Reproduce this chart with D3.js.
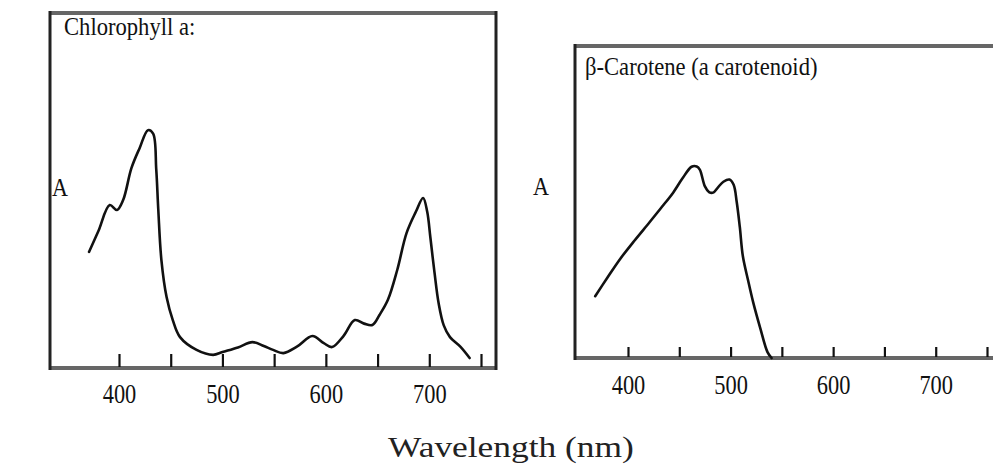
<!DOCTYPE html>
<html>
<head>
<meta charset="utf-8">
<script src="https://cdn.jsdelivr.net/npm/d3@7"></script>
<style>
  body { margin: 0; background: #fff; }
  svg { display: block; font-family: "Liberation Serif", "Times New Roman", serif; }
  .spectrum { fill: none; stroke: #111; stroke-width: 2.6; stroke-linejoin: round; stroke-linecap: round; }
  .tick line { stroke: #111; stroke-width: 2.2; }
</style>
</head>
<body>
<svg width="993" height="470"></svg>
<script>
// chlorophyll a absorption spectrum (relative units)
const chlWavelength = [371, 380, 391, 398, 404, 412, 420, 428, 433, 436, 438, 441, 446, 452, 459, 475, 491, 500, 515, 529, 540, 549, 559, 572, 587, 598, 606, 617, 628, 637, 645, 652, 660, 669, 678, 687, 694, 698, 701, 705, 709, 714, 720, 730, 739];
const chlAbsorbance = [0.327, 0.385, 0.459, 0.445, 0.473, 0.563, 0.620, 0.670, 0.660, 0.560, 0.445, 0.304, 0.200, 0.135, 0.087, 0.051, 0.037, 0.045, 0.058, 0.073, 0.062, 0.051, 0.042, 0.060, 0.090, 0.070, 0.059, 0.090, 0.135, 0.125, 0.121, 0.150, 0.192, 0.276, 0.380, 0.440, 0.479, 0.440, 0.369, 0.270, 0.183, 0.120, 0.087, 0.060, 0.028];

// beta-carotene absorption spectrum
const carWavelength = [368, 380, 392, 406, 421, 432, 444, 453, 462, 467, 470, 475, 479, 483, 488, 493, 499, 503, 506, 509, 512, 517, 522, 529, 536, 540];
const carAbsorbance = [0.198, 0.258, 0.316, 0.375, 0.435, 0.480, 0.530, 0.575, 0.613, 0.614, 0.604, 0.550, 0.532, 0.530, 0.548, 0.565, 0.572, 0.555, 0.500, 0.420, 0.326, 0.250, 0.179, 0.095, 0.019, 0.0];

const tickValues = [400, 450, 500, 550, 600, 650, 700, 750];
const tickLabels = ["400", "500", "600", "700"];

const titles = ["Chlorophyll a:", "\u03b2-Carotene (a carotenoid)"];
const yLabel = "A";
const xLabel = "Wavelength (nm)";

const svg = d3.select("svg");

const panels = [
  { box: [50, 13, 496, 368], xr: [119, 481], tick: 13, title: titles[0], data: [chlWavelength, chlAbsorbance],
    titlePos: [64, 35], aPos: [60, 196], labelY: 36 },
  { box: [575, 46, 1000, 358], xr: [628, 987], tick: 10, title: titles[1], data: [carWavelength, carAbsorbance],
    titlePos: [585, 75], aPos: [541, 195], labelY: 37 }
];

panels.forEach(p => {
  const [x0, y0, x1, y1] = p.box;
  const x = d3.scaleLinear().domain([400, 750]).range(p.xr);
  const y = d3.scaleLinear().domain([0, 1]).range([y1, y0]);
  const g = svg.append("g");

  // frame: gray-ish top/bottom, dark sides
  g.append("line").attr("x1", x0).attr("x2", x1).attr("y1", y0).attr("y2", y0)
    .attr("stroke", "#666").attr("stroke-width", 4);
  g.append("line").attr("x1", x0).attr("x2", x1).attr("y1", y1).attr("y2", y1)
    .attr("stroke", "#666").attr("stroke-width", 4);
  g.append("line").attr("x1", x0).attr("x2", x0).attr("y1", y0 - 2).attr("y2", y1 + 2)
    .attr("stroke", "#222").attr("stroke-width", 3);
  g.append("line").attr("x1", x1).attr("x2", x1).attr("y1", y0 - 2).attr("y2", y1 + 2)
    .attr("stroke", "#222").attr("stroke-width", 3);

  const axis = d3.axisBottom(x)
    .tickValues(tickValues)
    .tickSize(-p.tick)
    .tickSizeOuter(0)
    .tickFormat(d => tickLabels.includes(String(d)) ? String(d) : "");

  const ax = g.append("g").attr("transform", `translate(0,${y1 - 1})`).call(axis);
  ax.select(".domain").remove();
  ax.selectAll("text")
    .attr("y", p.labelY)
    .attr("dy", null)
    .attr("fill", "#111")
    .attr("font-size", 28)
    .attr("font-family", "Liberation Serif, serif")
    .attr("transform", "scale(0.8,1)");

  const line = d3.line()
    .x(d => x(d[0]))
    .y(d => y(d[1]))
    .curve(d3.curveCatmullRom.alpha(0.5));

  g.append("path")
    .attr("class", "spectrum")
    .attr("d", line(d3.zip(p.data[0], p.data[1])));

  g.append("text")
    .attr("transform", `translate(${p.titlePos[0]},${p.titlePos[1]}) scale(0.87,1)`)
    .attr("font-size", 26)
    .attr("fill", "#111")
    .text(p.title);

  g.append("text")
    .attr("transform", `translate(${p.aPos[0]},${p.aPos[1]}) scale(0.85,1)`)
    .attr("text-anchor", "middle")
    .attr("font-size", 26)
    .attr("fill", "#111")
    .text(yLabel);
});

svg.append("text")
  .attr("transform", "translate(511,457) scale(1.18,1)")
  .attr("text-anchor", "middle")
  .attr("font-size", 30)
  .attr("fill", "#222")
  .text(xLabel);
</script>
</body>
</html>
